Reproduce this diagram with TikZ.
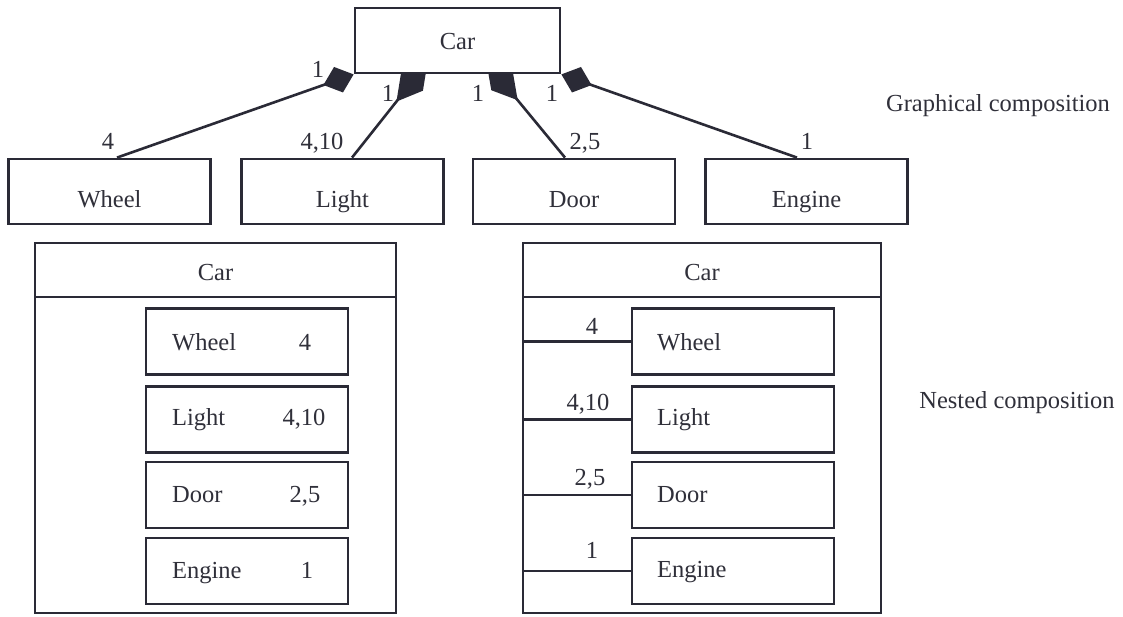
\documentclass[tikz,border=0pt]{standalone}
\usepackage{fontspec}
\setmainfont{Liberation Serif}
\usetikzlibrary{arrows.meta}
\pgfdeclarelayer{bg}
\pgfsetlayers{bg,main}
\definecolor{ink}{HTML}{2A2A36}
\definecolor{txt}{HTML}{30303A}
\begin{document}
\begin{tikzpicture}[x=1pt,y=-1pt,
  every node/.style={font=\fontsize{24.5}{28}\selectfont, text=txt},
  box/.style={draw=ink, line width=2.8pt, fill=white, minimum width=202pt,
    minimum height=65pt, inner sep=0pt},
  outer/.style={draw=ink, line width=2.8pt, inner sep=0pt},
  lbl/.style={anchor=base, inner sep=0pt},
  lft/.style={anchor=base west, inner sep=0pt},
  link/.style={draw=ink, line width=2.6pt},
  comp/.style 2 args={link, {Diamond[length=#1, width=#2]}-},
]
\useasboundingbox (0,0) rectangle (1123,617);

% ---------- graphical composition ----------
\node[box, minimum width=205pt, text height=19pt, text depth=0pt] (car) at (457.5,40.5) {Car};
\node[box, text height=33pt, text depth=0pt] (wheel)  at (109.5,191.5) {Wheel};
\node[box, text height=33pt, text depth=0pt] (light)  at (342.5,191.5) {Light};
\node[box, text height=33pt, text depth=0pt] (door)   at (574,191.5)   {Door};
\node[box, text height=33pt, text depth=0pt] (engine) at (806.5,191.5) {Engine};

\coordinate (cl) at ([xshift=-30pt,yshift=12pt]car.south);
\coordinate (cr) at ([xshift=29pt,yshift=12pt]car.south);

\begin{pgfonlayer}{bg}
  \fill[white] (0,0) rectangle (1123,617);
  \draw[comp={32pt}{27pt}] (car.south west) -- ([xshift=7.5pt]wheel.north);
  \draw[comp={50pt}{28pt}] (cl) -- ([xshift=9.5pt]light.north);
  \draw[comp={49pt}{28pt}] (cr) -- ([xshift=-9pt]door.north);
  \draw[comp={32pt}{27pt}] (car.south east) -- ([xshift=-9.5pt]engine.north);
\end{pgfonlayer}

\node[lbl] (m1) at (318,78)  {1};
\node[lbl] (m2) at (388,102) {1};
\node[lbl] (m3) at (478,102) {1};
\node[lbl] (m4) at (552,102) {1};
\node[lbl] (n1) at (108,150) {4};
\node[lbl] (n2) at (322,150) {4,10};
\node[lbl] (n3) at (585,150) {2,5};
\node[lbl] (n4) at (807,150) {1};

\node[lbl] (gc) at (998,112) {Graphical composition};
\node[lbl] (nc) at (1017,408) {Nested composition};

% ---------- nested composition, left ----------
\node[outer, minimum width=361pt, minimum height=370pt] (lcar) at (215.5,428) {};
\node[outer, minimum width=361pt, minimum height=54pt, text height=22pt, text depth=0pt] (lhead) at (215.5,270) {Car};
\node[box, minimum height=66pt] (lwheel)  at (247,341.5) {};
\node[box, minimum height=66pt] (llight)  at (247,419.5) {};
\node[box, minimum height=66pt] (ldoor)   at (247,495)   {};
\node[box, minimum height=66pt] (lengine) at (247,571)   {};
\node[lft] (lwt) at (172,350) {Wheel};
\node[lbl] (lwn) at (305,350) {4};
\node[lft] (llt) at (172,425) {Light};
\node[lbl] (lln) at (304,425) {4,10};
\node[lft] (ldt) at (172,502) {Door};
\node[lbl] (ldn) at (305,502) {2,5};
\node[lft] (let) at (172,578) {Engine};
\node[lbl] (len) at (307,578) {1};

% ---------- nested composition, right ----------
\node[outer, minimum width=358pt, minimum height=370pt] (rcar) at (702,428) {};
\node[outer, minimum width=358pt, minimum height=54pt, text height=22pt, text depth=0pt] (rhead) at (702,270) {Car};
\node[box, minimum height=66pt] (rwheel)  at (733,341.5) {};
\node[box, minimum height=66pt] (rlight)  at (733,419.5) {};
\node[box, minimum height=66pt] (rdoor)   at (733,495)   {};
\node[box, minimum height=66pt] (rengine) at (733,571)   {};
\node[lft] (rwt) at (657,350) {Wheel};
\node[lft] (rlt) at (657,425) {Light};
\node[lft] (rdt) at (657,502) {Door};
\node[lft] (ret) at (657,577) {Engine};

\draw[link] (rwheel.west)  -- (rwheel.west -| rcar.west);
\draw[link] (rlight.west)  -- (rlight.west -| rcar.west);
\draw[link] (rdoor.west)   -- (rdoor.west -| rcar.west);
\draw[link] (rengine.west) -- (rengine.west -| rcar.west);

\node[lbl] (rwn) at (592,334) {4};
\node[lbl] (rln) at (588,410) {4,10};
\node[lbl] (rdn) at (590,485) {2,5};
\node[lbl] (ren) at (592,558) {1};
\end{tikzpicture}
\end{document}
